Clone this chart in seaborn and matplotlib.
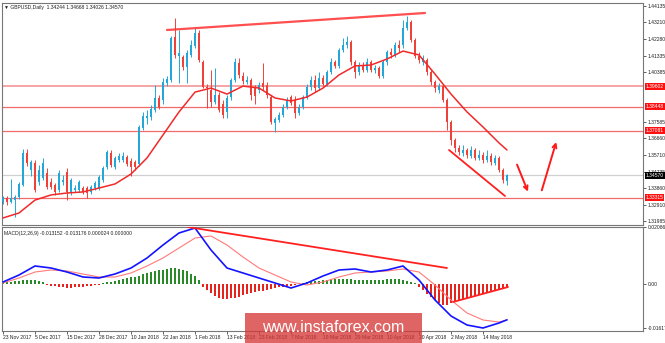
import matplotlib
matplotlib.use("Agg")
import matplotlib.pyplot as plt
import seaborn as sns
import numpy as np
from matplotlib.patches import Rectangle

sns.set_theme(style="white")
plt.rcParams["font.family"] = ["Liberation Sans", "DejaVu Sans"]

# ---------------- data (GBPUSD daily) ----------------
opens = [1.3312, 1.3329, 1.3306, 1.3317, 1.3334, 1.3402, 1.3583, 1.3487, 1.3527, 1.3419,
         1.3442, 1.3470, 1.3419, 1.3402, 1.3374, 1.3419, 1.3476, 1.3357, 1.3374, 1.3374,
         1.3385, 1.3385, 1.3363, 1.3385, 1.3385, 1.3430, 1.3504, 1.3583, 1.3504, 1.3543,
         1.3543, 1.3560, 1.3538, 1.3532, 1.3521, 1.3724, 1.3781, 1.3786, 1.3826, 1.3894,
         1.3882, 1.3978, 1.3995, 1.4238, 1.4131, 1.4125, 1.4069, 1.4137, 1.4188, 1.4261,
         1.4097, 1.3956, 1.3939, 1.3871, 1.3911, 1.3860, 1.3815, 1.3899, 1.3995, 1.4091,
         1.4018, 1.3984, 1.3995, 1.3950, 1.3939, 1.3978, 1.3967, 1.3899, 1.3753, 1.3769,
         1.3798, 1.3843, 1.3899, 1.3882, 1.3809, 1.3843, 1.3899, 1.3956, 1.3995, 1.3950,
         1.4007, 1.3973, 1.4041, 1.4097, 1.4075, 1.4165, 1.4193, 1.4210, 1.4097, 1.4041,
         1.4080, 1.4052, 1.4097, 1.4052, 1.4063, 1.4018, 1.4097, 1.4154, 1.4137, 1.4193,
         1.4193, 1.4289, 1.4323, 1.4221, 1.4131, 1.4097, 1.4108, 1.4041, 1.3984, 1.3939,
         1.3961, 1.3882, 1.3758, 1.3656, 1.3611, 1.3583, 1.3600, 1.3566, 1.3600, 1.3555,
         1.3572, 1.3543, 1.3566, 1.3527, 1.3555, 1.3487, 1.34244]
closes = [1.3329, 1.3306, 1.3329, 1.3334, 1.3408, 1.3583, 1.3527, 1.3532, 1.3374, 1.3487,
          1.3527, 1.3391, 1.3391, 1.3363, 1.3470, 1.3430, 1.3363, 1.3430, 1.3385, 1.3419,
          1.3363, 1.3357, 1.3391, 1.3413, 1.3447, 1.3498, 1.3589, 1.3515, 1.3555, 1.3566,
          1.3566, 1.3521, 1.3504, 1.3504, 1.3730, 1.3792, 1.3792, 1.3832, 1.3894, 1.3843,
          1.3984, 1.4001, 1.4233, 1.4137, 1.4148, 1.4069, 1.4148, 1.4193, 1.4261, 1.4108,
          1.3956, 1.3950, 1.3871, 1.3911, 1.3826, 1.3798, 1.3894, 1.3995, 1.4097, 1.4024,
          1.3990, 1.3995, 1.3911, 1.3905, 1.3967, 1.3956, 1.3911, 1.3758, 1.3775, 1.3798,
          1.3843, 1.3882, 1.3865, 1.3809, 1.3843, 1.3899, 1.3956, 1.3995, 1.3950, 1.4007,
          1.3973, 1.4041, 1.4097, 1.4075, 1.4165, 1.4193, 1.4210, 1.4097, 1.4041, 1.4080,
          1.4052, 1.4097, 1.4052, 1.4063, 1.4018, 1.4097, 1.4154, 1.4137, 1.4193, 1.4176,
          1.4289, 1.4323, 1.4221, 1.4131, 1.4108, 1.4120, 1.4041, 1.3984, 1.3950, 1.3961,
          1.3882, 1.3758, 1.3656, 1.3611, 1.3589, 1.3600, 1.3572, 1.3600, 1.3555, 1.3572,
          1.3543, 1.3566, 1.3532, 1.3555, 1.3487, 1.3430, 1.34570]
highs = [1.3340, 1.3340, 1.3436, 1.3346, 1.3419, 1.3606, 1.3606, 1.3543, 1.3543, 1.3515,
         1.3555, 1.3498, 1.3442, 1.3413, 1.3487, 1.3459, 1.3498, 1.3442, 1.3402, 1.3430,
         1.3396, 1.3396, 1.3402, 1.3425, 1.3459, 1.3510, 1.3600, 1.3600, 1.3566, 1.3583,
         1.3589, 1.3572, 1.3555, 1.3543, 1.3741, 1.3815, 1.3826, 1.3854, 1.3967, 1.3911,
         1.4007, 1.4018, 1.4244, 1.4346, 1.4278, 1.4137, 1.4165, 1.4221, 1.4289, 1.4278,
         1.4108, 1.3973, 1.4052, 1.4063, 1.3927, 1.3882, 1.3911, 1.4007, 1.4120, 1.4120,
         1.4041, 1.4018, 1.4007, 1.3967, 1.3984, 1.4091, 1.3984, 1.3911, 1.3786, 1.3815,
         1.3860, 1.3899, 1.3911, 1.3905, 1.3860, 1.3911, 1.3973, 1.4018, 1.4024, 1.4041,
         1.4024, 1.4052, 1.4120, 1.4108, 1.4176, 1.4233, 1.4244, 1.4221, 1.4108, 1.4097,
         1.4097, 1.4120, 1.4108, 1.4080, 1.4075, 1.4108, 1.4165, 1.4176, 1.4210, 1.4221,
         1.4334, 1.4357, 1.4334, 1.4233, 1.4154, 1.4137, 1.4120, 1.4052, 1.3995, 1.3978,
         1.3973, 1.3894, 1.3769, 1.3668, 1.3628, 1.3628, 1.3611, 1.3623, 1.3611, 1.3600,
         1.3589, 1.3600, 1.3583, 1.3572, 1.3566, 1.3498, 1.34668]
lows = [1.3295, 1.3289, 1.3300, 1.3221, 1.3323, 1.3396, 1.3510, 1.3453, 1.3363, 1.3402,
        1.3430, 1.3380, 1.3380, 1.3346, 1.3363, 1.3402, 1.3317, 1.3346, 1.3363, 1.3363,
        1.3351, 1.3329, 1.3351, 1.3374, 1.3374, 1.3419, 1.3493, 1.3504, 1.3493, 1.3532,
        1.3532, 1.3510, 1.3453, 1.3487, 1.3510, 1.3713, 1.3747, 1.3769, 1.3815, 1.3832,
        1.3860, 1.3961, 1.3984, 1.4120, 1.3978, 1.4052, 1.3978, 1.4125, 1.4176, 1.4097,
        1.3950, 1.3837, 1.3843, 1.3860, 1.3815, 1.3781, 1.3781, 1.3882, 1.3984, 1.4007,
        1.3973, 1.3973, 1.3882, 1.3860, 1.3922, 1.3939, 1.3894, 1.3747, 1.3702, 1.3758,
        1.3786, 1.3832, 1.3854, 1.3781, 1.3798, 1.3832, 1.3888, 1.3939, 1.3927, 1.3939,
        1.3961, 1.3961, 1.4029, 1.4063, 1.4063, 1.4154, 1.4176, 1.4080, 1.4007, 1.4024,
        1.4041, 1.4041, 1.4041, 1.4035, 1.4007, 1.4007, 1.4080, 1.4120, 1.4125, 1.4154,
        1.4176, 1.4278, 1.4210, 1.4120, 1.4091, 1.4080, 1.4024, 1.3967, 1.3927, 1.3922,
        1.3871, 1.3713, 1.3628, 1.3589, 1.3572, 1.3566, 1.3555, 1.3555, 1.3543, 1.3543,
        1.3527, 1.3532, 1.3515, 1.3515, 1.3476, 1.3413, 1.34026]

# moving average, MACD and signal read every 4th bar
sample_bars = [0, 4, 8, 12, 16, 20, 24, 28, 32, 36, 40, 44, 48, 52, 56, 60, 64, 68,
               72, 76, 80, 84, 88, 92, 96, 100, 104, 108, 112, 116, 120, 124, 126]
ma_values = [1.3216, 1.3244, 1.3317, 1.3346, 1.3357, 1.3363, 1.3385, 1.3408, 1.3464,
             1.3555, 1.3685, 1.3815, 1.3927, 1.3950, 1.3916, 1.3961, 1.3950, 1.3894,
             1.3877, 1.3899, 1.3950, 1.4024, 1.4075, 1.4080, 1.4114, 1.4159, 1.4137,
             1.4029, 1.3916, 1.3815, 1.3730, 1.3640, 1.3600]
macd_values = [0.00073, 0.00330, 0.00661, 0.00587, 0.00440, 0.00257, 0.00220, 0.00367,
               0.00587, 0.00954, 0.01431, 0.01872, 0.02055, 0.01248, 0.00587, 0.00404,
               0.00220, 0.00037, -0.00147, 0.00037, 0.00294, 0.00514, 0.00551, 0.00440,
               0.00514, 0.00661, 0.00147, -0.00587, -0.01174, -0.01505, -0.01615,
               -0.01431, -0.013152]
signal_values = [0.00037, 0.00220, 0.00440, 0.00514, 0.00477, 0.00367, 0.00257, 0.00257,
                 0.00404, 0.00661, 0.00954, 0.01321, 0.01688, 0.01762, 0.01431, 0.00991,
                 0.00587, 0.00330, 0.00073, -0.00037, 0.00073, 0.00257, 0.00404, 0.00440,
                 0.00477, 0.00551, 0.00440, -0.00037, -0.00587, -0.01064, -0.01321,
                 -0.01395, -0.013176]
hist_values = [0.0004, 0.0006, 0.0008, 0.0010, 0.0012, 0.0014, 0.0015, 0.0015, 0.0014, 0.0012, 0.0008,
               -0.0003, -0.0006, -0.0009, -0.0011, -0.0012, -0.0013, -0.0013, -0.0012, -0.0011,
               -0.0010, -0.0008, -0.0006, -0.0004, -0.0002,
               0.0003, 0.0006, 0.0009, 0.0012, 0.0015, 0.0018, 0.0021, 0.0024, 0.0027, 0.0031,
               0.0035, 0.0039, 0.0043, 0.0047, 0.0050, 0.0053, 0.0056, 0.0058, 0.0058, 0.0056,
               0.0052, 0.0046, 0.0038, 0.0028, 0.0016,
               -0.0010, -0.0022, -0.0034, -0.0043, -0.0050, -0.0054, -0.0055, -0.0053, -0.0050,
               -0.0046, -0.0042, -0.0038, -0.0034, -0.0030, -0.0027, -0.0024, -0.0021, -0.0018,
               -0.0015, -0.0012, -0.0010, -0.0008, -0.0006, -0.0003,
               0.0002, 0.0004, 0.0006, 0.0008, 0.0010, 0.0012, 0.0014, 0.0016, 0.0018, 0.0019,
               0.0020, 0.0020, 0.0019, 0.0018, 0.0016, 0.0015, 0.0014, 0.0013, 0.0013, 0.0014,
               0.0015, 0.0016, 0.0017, 0.0018, 0.0018, 0.0017, 0.0015, 0.0012, 0.0008, 0.0003,
               -0.0010, -0.0022, -0.0035, -0.0048, -0.0060, -0.0070, -0.0076, -0.0076, -0.0071,
               -0.0066, -0.0062, -0.0058, -0.0053, -0.0049, -0.0045, -0.0041, -0.0037, -0.0032,
               -0.0028, -0.0024, -0.0020, -0.0015, -0.0011]

level_prices = [1.39602, 1.38448, 1.37081, 1.33315]
level_labels = ["1.39602", "1.38448", "1.37081", "1.33315"]
last_price = 1.34570
price_ticks = [1.44135, 1.43210, 1.42280, 1.41335, 1.40385, 1.37585, 1.36660,
               1.35710, 1.34735, 1.33860, 1.32910, 1.31985]
price_tick_labels = ["1.44135", "1.43210", "1.42280", "1.41335", "1.40385", "1.37585",
                     "1.36660", "1.35710", "1.34735", "1.33860", "1.32910", "1.31985"]
macd_ticks = [0.020868, 0.0, -0.016173]
macd_tick_labels = ["0.020868", "0.00", "-0.016173"]
date_bars = [0, 8, 16, 24, 32, 40, 48, 56, 64, 72, 80, 88, 96, 104, 112, 120]
date_labels = ["23 Nov 2017", "5 Dec 2017", "15 Dec 2017", "28 Dec 2017", "10 Jan 2018",
               "22 Jan 2018", "1 Feb 2018", "13 Feb 2018", "23 Feb 2018", "7 Mar 2018",
               "19 Mar 2018", "29 Mar 2018", "10 Apr 2018", "20 Apr 2018", "2 May 2018",
               "14 May 2018"]

# hand-drawn analysis lines (bar index, value)
top_trend = ([41, 105.5], [1.4278, 1.4374])
channel_line = ([111.5, 125.5], [1.3600, 1.3340])
macd_trend = ([46.25, 111], [0.0209, 0.00587])
hist_trend = ([112.5, 126.25], [-0.0066, -0.0011])
arrow_down = ((128.25, 1.3532), (131.5, 1.3350))
arrow_up = ((134.5, 1.3357), (138.5, 1.3660))

BLUE = "#22a7d8"
RED = "#f0403a"
GREEN = "#2a8a2a"
HRED = "#e8231c"
FS = 3.6

W, H = 665, 343
fig = plt.figure(figsize=(W / 100, H / 100), dpi=100)
ax = fig.add_axes([2 / W, 1 - 225 / H, 641 / W, 222 / H])
axm = fig.add_axes([2 / W, 1 - 331 / H, 641 / W, 104 / H])

idx = np.arange(len(closes))
o = np.array(opens); c = np.array(closes); hi = np.array(highs); lo = np.array(lows)
cols = np.where(c >= o, BLUE, RED)

# levels
for p, lab in zip(level_prices, level_labels):
    colr = "#f5a5a5" if p == level_prices[0] else "#f26a6a"
    lw = 1.4 if p == level_prices[0] else 0.9
    ax.axhline(p, color=colr, lw=lw, zorder=1)
ax.axhline(last_price, color="#d0d0d0", lw=0.9, zorder=1)

# candles
ax.vlines(idx, lo, hi, colors=cols, lw=0.7, zorder=3)
body_bottom = np.minimum(o, c)
body_h = np.maximum(np.abs(c - o), 0.00025)
ax.bar(idx, body_h, bottom=body_bottom, width=0.7, color=cols, edgecolor="none", zorder=4)

sns.lineplot(x=sample_bars, y=ma_values, ax=ax, color="#f02a2a", lw=1.1, zorder=5, legend=False)

ax.plot(*top_trend, color="#ff3030", lw=1.6, alpha=0.85, zorder=6)
ax.plot(*channel_line, color="#ff2020", lw=1.3, zorder=6)
for a in (arrow_down, arrow_up):
    ax.annotate("", xy=a[1], xytext=a[0],
                arrowprops=dict(arrowstyle="->", color="#ff1a1a", lw=1.4, mutation_scale=7),
                zorder=7)

ax.set_xlim(-0.25, 160)
ax.set_ylim(1.31762, 1.44305)
ax.set_xticks([])
ax.yaxis.tick_right()
ax.set_yticks(price_ticks)
ax.set_yticklabels(price_tick_labels)
ax.tick_params(axis="y", which="both", right=True, length=2, width=0.5, pad=1.2,
               labelsize=FS, colors="#202020")

for p, lab in zip(level_prices, level_labels):
    ax.text(1.0 + 2.5 / 641, p, lab, transform=ax.get_yaxis_transform(), fontsize=FS,
            color="white", va="center", ha="left", zorder=10, clip_on=False,
            bbox=dict(boxstyle="square,pad=0.2", fc="#ff1010", ec="none"))
ax.text(1.0 + 2.5 / 641, last_price, "1.34570", transform=ax.get_yaxis_transform(),
        fontsize=FS, color="white", va="center", ha="left", zorder=10, clip_on=False,
        bbox=dict(boxstyle="square,pad=0.2", fc="black", ec="none"))

# MACD panel
hcols = np.where(np.array(hist_values) >= 0, GREEN, HRED)
axm.bar(idx, hist_values, width=0.45, color=hcols, edgecolor="none", zorder=2)
sns.lineplot(x=sample_bars, y=signal_values, ax=axm, color="#ff7a7a", lw=0.8, zorder=3, legend=False)
sns.lineplot(x=sample_bars, y=macd_values, ax=axm, color="#1414ff", lw=1.2, zorder=4, legend=False)
axm.plot(*macd_trend, color="#ff2020", lw=1.3, zorder=5)
axm.plot(*hist_trend, color="#ff2020", lw=1.3, zorder=5)
axm.set_xlim(-0.25, 160)
axm.set_ylim(-0.01725, 0.02092)
axm.yaxis.tick_right()
axm.set_yticks(macd_ticks)
axm.set_yticklabels(macd_tick_labels)
axm.tick_params(axis="y", right=True, length=2, width=0.5, pad=1.2, labelsize=FS, colors="#202020")
axm.set_xticks(date_bars)
axm.set_xticklabels(date_labels)
for t in axm.get_xticklabels():
    t.set_ha("left")
axm.tick_params(axis="x", bottom=True, length=2, width=0.5, pad=1, labelsize=FS, colors="#202020")

for a in (ax, axm):
    a.set_xlabel(""); a.set_ylabel("")
    for s in a.spines.values():
        s.set_color("#777777"); s.set_linewidth(0.8)

fig.text(4 / W, 1 - 8 / H, "\u25bc GBPUSD,Daily  1.34244 1.34668 1.34026 1.34570",
         fontsize=FS, va="center", ha="left", color="#202020")
fig.text(4 / W, 1 - 233 / H, "MACD(12,26,9) -0.013152 -0.013176 0.000024 0.000000",
         fontsize=FS, va="center", ha="left", color="#202020")

# watermark
rect = Rectangle((245 / W, 0), 177 / W, 30 / H, transform=fig.transFigure,
                 fc=(0.84, 0.22, 0.22), alpha=0.78, ec="none", zorder=20)
fig.add_artist(rect)
fig.text(333 / W, 1 - 327 / H, "www.instaforex.com", fontsize=11.5, color="white",
         ha="center", va="center", zorder=21)

fig.savefig("out.png", dpi=100)
